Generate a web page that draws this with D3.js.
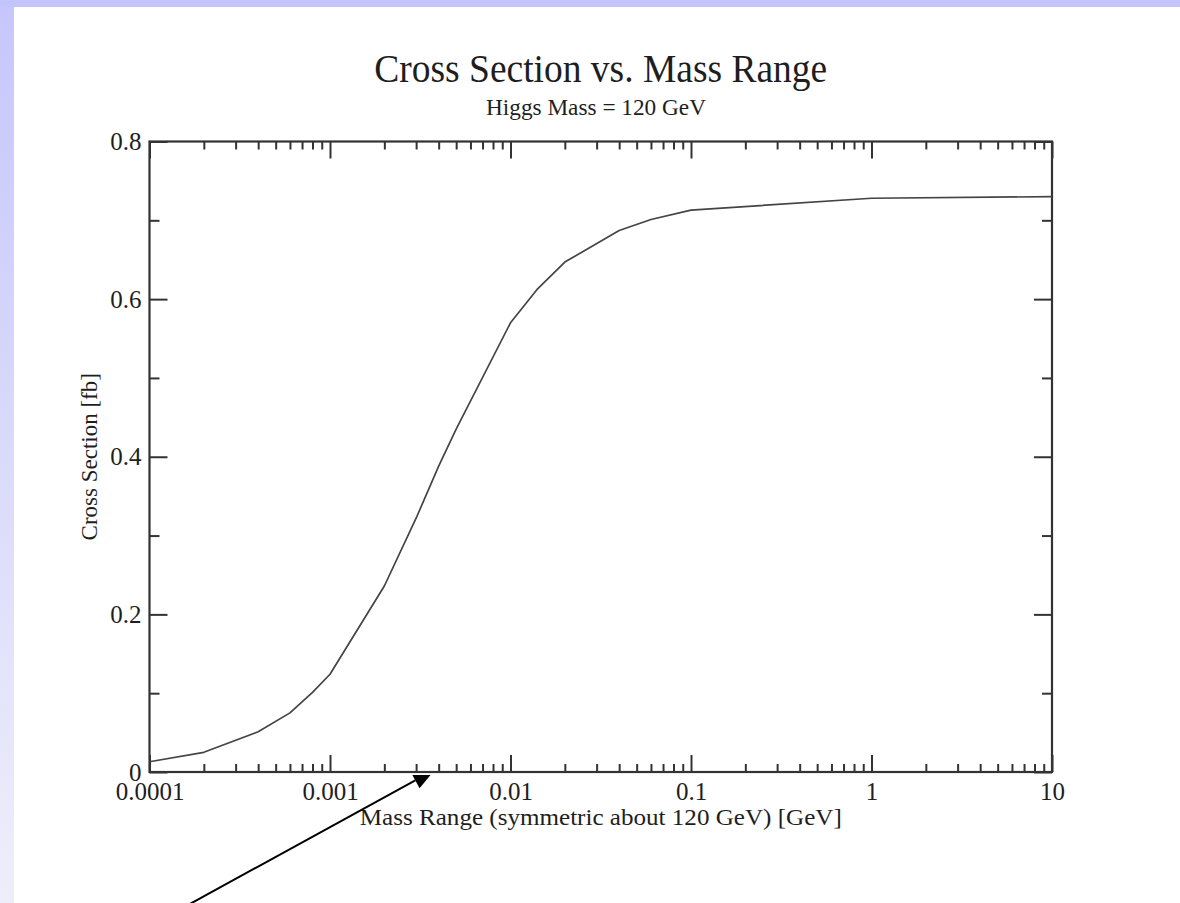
<!DOCTYPE html>
<html>
<head>
<meta charset="utf-8">
<script src="https://cdn.jsdelivr.net/npm/d3@7"></script>
<style>
  html, body { margin: 0; padding: 0; background: #ffffff; }
  svg { display: block; }
  text { font-family: "Liberation Serif", "Times New Roman", Times, serif; fill: #1e1e1e; }
</style>
</head>
<body>
<svg id="chart" width="1180" height="903"></svg>
<script>
// Mass window (GeV) and the integrated cross section (fb)
const massRange = [0.0001, 0.0002, 0.0004, 0.0006, 0.0008, 0.001, 0.002, 0.003, 0.004, 0.005,
                   0.01, 0.014, 0.02, 0.04, 0.06, 0.1, 1, 10];
const crossSection = [0.013, 0.025, 0.051, 0.075, 0.101, 0.124, 0.236, 0.322, 0.388, 0.435,
                      0.570, 0.612, 0.647, 0.687, 0.701, 0.713, 0.728, 0.730];

const xMajorTicks = [0.0001, 0.001, 0.01, 0.1, 1, 10];
const xTickLabels = ["0.0001", "0.001", "0.01", "0.1", "1", "10"];
const yMajorTicks = [0, 0.2, 0.4, 0.6, 0.8];
const yTickLabels = ["0", "0.2", "0.4", "0.6", "0.8"];
const yMinorTicks = [0.1, 0.3, 0.5, 0.7];

const titleText = "Cross Section vs. Mass Range";
const subtitleText = "Higgs Mass = 120 GeV";
const xTitle = "Mass Range (symmetric about 120 GeV) [GeV]";
const yTitle = "Cross Section [fb]";

const W = 1180, H = 903;
const svg = d3.select("#chart");

// slide decoration: lavender bar on top, fading strip on the left
const defs = svg.append("defs");
const grad = defs.append("linearGradient").attr("id", "sideFade")
  .attr("x1", 0).attr("y1", 0).attr("x2", 0).attr("y2", 1);
grad.append("stop").attr("offset", "0%").attr("stop-color", "#c6c6fc");
grad.append("stop").attr("offset", "100%").attr("stop-color", "#eeeefa");
svg.append("rect").attr("x", 0).attr("y", 0).attr("width", 14).attr("height", H).attr("fill", "url(#sideFade)");
svg.append("rect").attr("x", 0).attr("y", 0).attr("width", W).attr("height", 7).attr("fill", "#c4c4fc");

const plot = { left: 149.5, right: 1052, top: 141.5, bottom: 772 };

const x = d3.scaleLog().domain([0.0001, 10]).range([plot.left, plot.right]);
const y = d3.scaleLinear().domain([0, 0.8]).range([plot.bottom, plot.top]);

// minor log ticks: 2..9 in every decade
const xMinorTicks = [];
xMajorTicks.slice(0, -1).forEach(d => { for (let k = 2; k <= 9; k++) xMinorTicks.push(+(d * k).toPrecision(3)); });

const axisColor = "#333";
function styleAxis(g) {
  g.select(".domain").remove();
  g.selectAll(".tick line").attr("stroke", axisColor).attr("stroke-width", 2);
  g.selectAll(".tick text").style("font-size", "25px").attr("fill", "#1e1e1e");
}

const xLabelFmt = d => xTickLabels[xMajorTicks.indexOf(d)];
const yLabelFmt = d => yTickLabels[yMajorTicks.indexOf(d)];

// bottom axis
svg.append("g").attr("transform", `translate(0,${plot.bottom})`)
  .call(d3.axisBottom(x).tickValues(xMajorTicks).tickSize(-17).tickSizeOuter(0).tickPadding(10).tickFormat(xLabelFmt))
  .call(styleAxis);
svg.append("g").attr("transform", `translate(0,${plot.bottom})`)
  .call(d3.axisBottom(x).tickValues(xMinorTicks).tickSize(-8).tickSizeOuter(0).tickFormat(""))
  .call(styleAxis);
// top axis
svg.append("g").attr("transform", `translate(0,${plot.top})`)
  .call(d3.axisTop(x).tickValues(xMajorTicks).tickSize(-17).tickSizeOuter(0).tickFormat(""))
  .call(styleAxis);
svg.append("g").attr("transform", `translate(0,${plot.top})`)
  .call(d3.axisTop(x).tickValues(xMinorTicks).tickSize(-8).tickSizeOuter(0).tickFormat(""))
  .call(styleAxis);
// left axis
svg.append("g").attr("transform", `translate(${plot.left},0)`)
  .call(d3.axisLeft(y).tickValues(yMajorTicks).tickSize(-18).tickSizeOuter(0).tickPadding(8).tickFormat(yLabelFmt))
  .call(styleAxis);
svg.append("g").attr("transform", `translate(${plot.left},0)`)
  .call(d3.axisLeft(y).tickValues(yMinorTicks).tickSize(-10).tickSizeOuter(0).tickFormat(""))
  .call(styleAxis);
// right axis
svg.append("g").attr("transform", `translate(${plot.right},0)`)
  .call(d3.axisRight(y).tickValues(yMajorTicks).tickSize(-18).tickSizeOuter(0).tickFormat(""))
  .call(styleAxis);
svg.append("g").attr("transform", `translate(${plot.right},0)`)
  .call(d3.axisRight(y).tickValues(yMinorTicks).tickSize(-10).tickSizeOuter(0).tickFormat(""))
  .call(styleAxis);

// frame
svg.append("rect")
  .attr("x", plot.left).attr("y", plot.top)
  .attr("width", plot.right - plot.left).attr("height", plot.bottom - plot.top)
  .attr("fill", "none").attr("stroke", axisColor).attr("stroke-width", 2.2);

// curve
const data = massRange.map((m, i) => ({ m, s: crossSection[i] }));
svg.append("path").datum(data)
  .attr("fill", "none").attr("stroke", "#444").attr("stroke-width", 1.7)
  .attr("stroke-linejoin", "round")
  .attr("d", d3.line().x(d => x(d.m)).y(d => y(d.s)));

// titles
const cx = (plot.left + plot.right) / 2;
svg.append("text").attr("x", cx).attr("y", 82).attr("text-anchor", "middle")
  .style("font-size", "39px").attr("textLength", 453).attr("lengthAdjust", "spacingAndGlyphs").text(titleText);
svg.append("text").attr("x", 596).attr("y", 115).attr("text-anchor", "middle")
  .style("font-size", "23px").attr("textLength", 220).attr("lengthAdjust", "spacingAndGlyphs").text(subtitleText);
svg.append("text").attr("x", cx).attr("y", 825).attr("text-anchor", "middle")
  .style("font-size", "23px").attr("textLength", 482).attr("lengthAdjust", "spacingAndGlyphs").text(xTitle);
svg.append("text").attr("transform", `translate(97,${(plot.top + plot.bottom) / 2}) rotate(-90)`)
  .attr("text-anchor", "middle").style("font-size", "23px").text(yTitle);

// pointer arrow aimed at the axis near 0.004 GeV
const tipX = x(0.0038), tipY = plot.bottom - 2;
const ang = Math.atan2(-(903 - tipY), tipX - 188);
const ux = Math.cos(ang), uy = Math.sin(ang);
const nx = -uy, ny = ux;
const headLen = 22, headHalf = 9;
const bx = tipX - headLen * ux, by = tipY - headLen * uy;
defs.append("clipPath").attr("id", "belowAxis")
  .append("rect").attr("x", 0).attr("y", plot.bottom + 3).attr("width", W).attr("height", H);
const arrow = svg.append("g").attr("clip-path", "url(#belowAxis)");
arrow.append("line").attr("x1", 188).attr("y1", 905).attr("x2", bx).attr("y2", by)
  .attr("stroke", "#000").attr("stroke-width", 2);
arrow.append("path")
  .attr("d", `M${tipX},${tipY}L${bx + headHalf * nx},${by + headHalf * ny}L${bx - headHalf * nx},${by - headHalf * ny}Z`)
  .attr("fill", "#000");
</script>
</body>
</html>
